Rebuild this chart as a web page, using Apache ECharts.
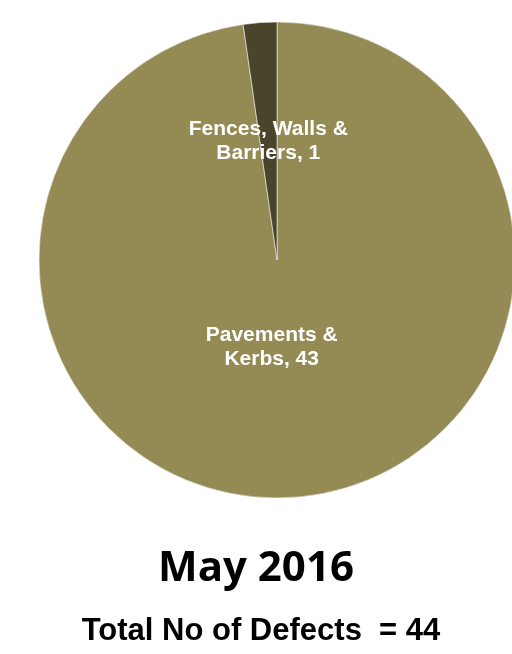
<!DOCTYPE html>
<html>
<head>
<meta charset="utf-8">
<script src="https://cdn.jsdelivr.net/npm/echarts@6/dist/echarts.min.js"></script>
<style>
  html, body { margin: 0; padding: 0; background: #fff; }
  #chart { width: 512px; height: 654px; }
</style>
</head>
<body>
<div id="chart"></div>
<script>
  // 数据
  let names = ['Pavements &\nKerbs', 'Fences, Walls &\nBarriers'];
  let values = [43, 1];
  let colors = ['#948A54', '#4A452A'];
  let month = 'May 2016';
  let total = 44;

  let chart = echarts.init(document.getElementById('chart'));
  // label offsets so the text sits where the original had it
  let offsets = [[-14, -34], [0, 3]];
  let data = [];
  for (let i = 0; i < names.length; i++) {
    data.push({
      name: names[i],
      value: values[i],
      itemStyle: { color: colors[i] },
      label: { offset: offsets[i] }
    });
  }

  let option = {
    animation: false,
    title: [{
      text: month,
      left: 251,
      top: 543,
      textAlign: 'center',
      textStyle: { fontFamily: 'Open Sans', fontWeight: 'bold', fontSize: 42, color: '#000' }
    }, {
      text: 'Total No of Defects  = ' + total,
      left: 256,
      top: 611,
      textAlign: 'center',
      textStyle: { fontFamily: 'Liberation Sans', fontWeight: 'bold', fontSize: 31, color: '#000' }
    }],
    series: [{
      type: 'pie',
      center: [277, 260],
      radius: 238,
      startAngle: 90,
      clockwise: true,
      silent: true,
      itemStyle: { borderColor: '#f2f2f2', borderWidth: 0.6 },
      label: {
        show: true,
        position: 'inside',
        formatter: '{b}, {c}',
        color: '#fff',
        fontFamily: 'Liberation Sans',
        fontWeight: 'bold',
        fontSize: 21,
        lineHeight: 24,
        align: 'center'
      },
      labelLine: { show: false },
      data: data
    }]
  };
  chart.setOption(option);
</script>
</body>
</html>
